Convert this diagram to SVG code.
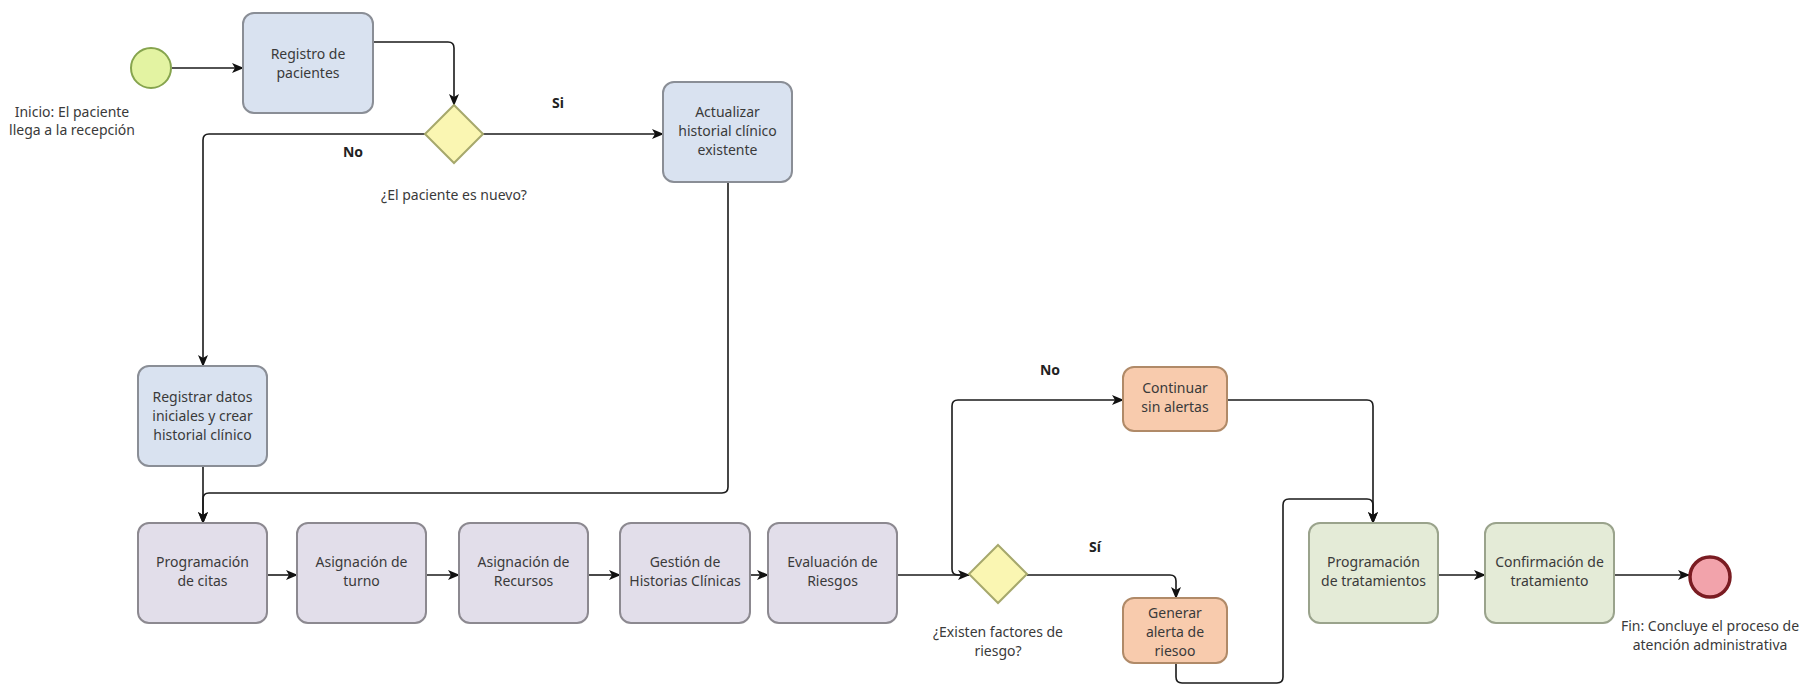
<svg xmlns="http://www.w3.org/2000/svg" width="1806" height="686" viewBox="0 0 1806 686">
<defs>
<marker id="arr" viewBox="0 0 12 10" refX="11" refY="5" markerWidth="12" markerHeight="10" markerUnits="userSpaceOnUse" orient="auto">
<path d="M0,0 L12,5 L0,10 L3,5 z" fill="#111"/>
</marker>
<style>
text{font-family:"Noto Sans","Open Sans","DejaVu Sans",sans-serif;font-size:14px;fill:#3a3a3a;text-anchor:middle}
.lbl{font-weight:bold;font-size:14px;fill:#222}
.conn path{fill:none;stroke:#1a1a1a;stroke-width:1.6;marker-end:url(#arr)}
.blue{fill:#d9e2f0;stroke:#8a8e96;stroke-width:2}
.purple{fill:#e2deea;stroke:#8c8990;stroke-width:2}
.orange{fill:#f8cbad;stroke:#b08a68;stroke-width:2}
.green{fill:#e4ebd7;stroke:#9aa38c;stroke-width:2}
.gate{fill:#faf6b2;stroke:#a6a86c;stroke-width:2}
</style>
</defs>
<rect width="1806" height="686" fill="#fff"/>
<g class="conn" id="connectors">
<path d="M172,68 L243,68"/>
<path d="M373,42 L448,42 Q454,42 454,48 L454,105"/>
<path d="M483,134 L663,134"/>
<path d="M425,134 L209,134 Q203,134 203,140 L203,366"/>
<path d="M203,466 L203,523"/>
<path d="M728,182 L728,487 Q728,493 722,493 L209,493 Q203,493 203,499 L203,523"/>
<path d="M267,575 L297,575"/>
<path d="M426,575 L459,575"/>
<path d="M588,575 L620,575"/>
<path d="M750,575 L768,575"/>
<path d="M897,575 L969,575"/>
<path d="M969,575 L958,575 Q952,575 952,569 L952,406 Q952,400 958,400 L1123,400"/>
<path d="M1027,575 L1170,575 Q1176,575 1176,581 L1176,598"/>
<path d="M1227,400 L1367,400 Q1373,400 1373,406 L1373,523"/>
<path d="M1176,663 L1176,677 Q1176,683 1182,683 L1277,683 Q1283,683 1283,677 L1283,505 Q1283,499 1289,499 L1367,499 Q1373,499 1373,505 L1373,523"/>
<path d="M1438,575 L1485,575"/>
<path d="M1614,575 L1689,575"/>
</g>
<g id="labels">
<text class="lbl" x="558" y="108">Si</text>
<text class="lbl" x="353" y="157">No</text>
<text class="lbl" x="1050" y="375">No</text>
<text class="lbl" x="1095" y="552">Sí</text>
</g>
<g id="start">
<circle cx="151" cy="68" r="20" fill="#e3f3a2" stroke="#86a44e" stroke-width="2"/>
<text x="72" y="117">Inicio: El paciente</text>
<text x="72" y="135">llega a la recepción</text>
</g>
<g id="registro">
<rect class="blue" x="243" y="13" width="130" height="100" rx="11"/>
<text x="308" y="59">Registro de</text>
<text x="308" y="78">pacientes</text>
</g>
<g id="gw1">
<polygon class="gate" points="454,105 483,134 454,163 425,134"/>
<text x="454" y="200">¿El paciente es nuevo?</text>
</g>
<g id="actualizar">
<rect class="blue" x="663" y="82" width="129" height="100" rx="11"/>
<text x="727.5" y="117">Actualizar</text>
<text x="727.5" y="136">historial clínico</text>
<text x="727.5" y="155">existente</text>
</g>
<g id="registrar">
<rect class="blue" x="138" y="366" width="129" height="100" rx="11"/>
<text x="202.5" y="402">Registrar datos</text>
<text x="202.5" y="421">iniciales y crear</text>
<text x="202.5" y="440">historial clínico</text>
</g>
<g id="citas">
<rect class="purple" x="138" y="523" width="129" height="100" rx="11"/>
<text x="202.5" y="567">Programación</text>
<text x="202.5" y="586">de citas</text>
</g>
<g id="turno">
<rect class="purple" x="297" y="523" width="129" height="100" rx="11"/>
<text x="361.5" y="567">Asignación de</text>
<text x="361.5" y="586">turno</text>
</g>
<g id="recursos">
<rect class="purple" x="459" y="523" width="129" height="100" rx="11"/>
<text x="523.5" y="567">Asignación de</text>
<text x="523.5" y="586">Recursos</text>
</g>
<g id="gestion">
<rect class="purple" x="620" y="523" width="130" height="100" rx="11"/>
<text x="685" y="567">Gestión de</text>
<text x="685" y="586">Historias Clínicas</text>
</g>
<g id="evaluacion">
<rect class="purple" x="768" y="523" width="129" height="100" rx="11"/>
<text x="832.5" y="567">Evaluación de</text>
<text x="832.5" y="586">Riesgos</text>
</g>
<g id="gw2">
<polygon class="gate" points="998,545 1027,574 998,603 969,574"/>
<text x="998" y="637">¿Existen factores de</text>
<text x="998" y="656">riesgo?</text>
</g>
<g id="continuar">
<rect class="orange" x="1123" y="367" width="104" height="64" rx="11"/>
<text x="1175" y="393">Continuar</text>
<text x="1175" y="412">sin alertas</text>
</g>
<g id="generar">
<rect class="orange" x="1123" y="598" width="104" height="65" rx="11"/>
<text x="1175" y="618">Generar</text>
<text x="1175" y="637">alerta de</text>
<text x="1175" y="656">riesoo</text>
</g>
<g id="tratamientos">
<rect class="green" x="1309" y="523" width="129" height="100" rx="11"/>
<text x="1373.5" y="567">Programación</text>
<text x="1373.5" y="586">de tratamientos</text>
</g>
<g id="confirmacion">
<rect class="green" x="1485" y="523" width="129" height="100" rx="11"/>
<text x="1549.5" y="567">Confirmación de</text>
<text x="1549.5" y="586">tratamiento</text>
</g>
<g id="end">
<circle cx="1710" cy="577" r="20" fill="#f2a3ab" stroke="#7a1c22" stroke-width="3.5"/>
<text x="1710" y="631">Fin: Concluye el proceso de</text>
<text x="1710" y="650">atención administrativa</text>
</g>
</svg>
